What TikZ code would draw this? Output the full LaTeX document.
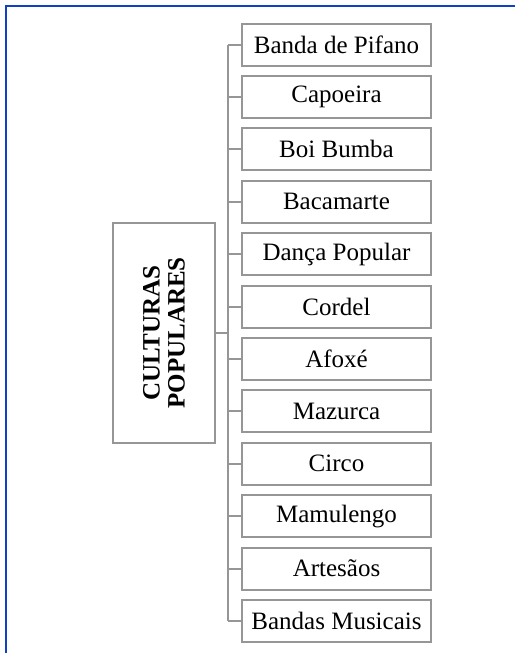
\documentclass[tikz,border=0pt]{standalone}
\usepackage{fontspec}
\setmainfont{Liberation Serif}
\usetikzlibrary{positioning}

\definecolor{boxgray}{RGB}{150,150,150}
\definecolor{framblue}{RGB}{16,64,200}

\begin{document}
\begin{tikzpicture}[
    x=1pt, y=-1pt,
    item/.style={draw=boxgray, line width=2pt, minimum width=189pt,
                 minimum height=42pt, inner sep=0pt,
                 font=\fontsize{25}{30}\selectfont},
    core/.style={draw=boxgray, line width=2pt, minimum width=220pt,
                 minimum height=102pt, inner sep=0pt, rotate=90,
                 align=center, font=\fontsize{25}{25}\selectfont\bfseries},
    link/.style={draw=boxgray, line width=2pt}
  ]
  \useasboundingbox (0,0) rectangle (515,653);

  % frame along top and left edge
  \draw[framblue, line width=2.2pt] (6,653) -- (6,6) -- (515,6);

  % central box
  \node[core] (cult) at (164,333) {CULTURAS\\POPULARES};
  \coordinate (spine) at (228,333);

  % list of items
  \foreach \lbl [count=\i from 0] in {Banda de Pifano, Capoeira, Boi Bumba,
      Bacamarte, Dança Popular, Cordel, Afoxé, Mazurca, Circo, Mamulengo,
      Artesãos, Bandas Musicais} {
    \node[item] (it\i) at (336.5, 44.5+52.4*\i) {\lbl};
    \draw[link] (it\i.west) -- (it\i.west -| spine);
  }

  % trunk
  \draw[link] (it0.west -| spine) -- (it11.west -| spine);
  \draw[link] (cult.south) -- (spine);
\end{tikzpicture}
\end{document}
